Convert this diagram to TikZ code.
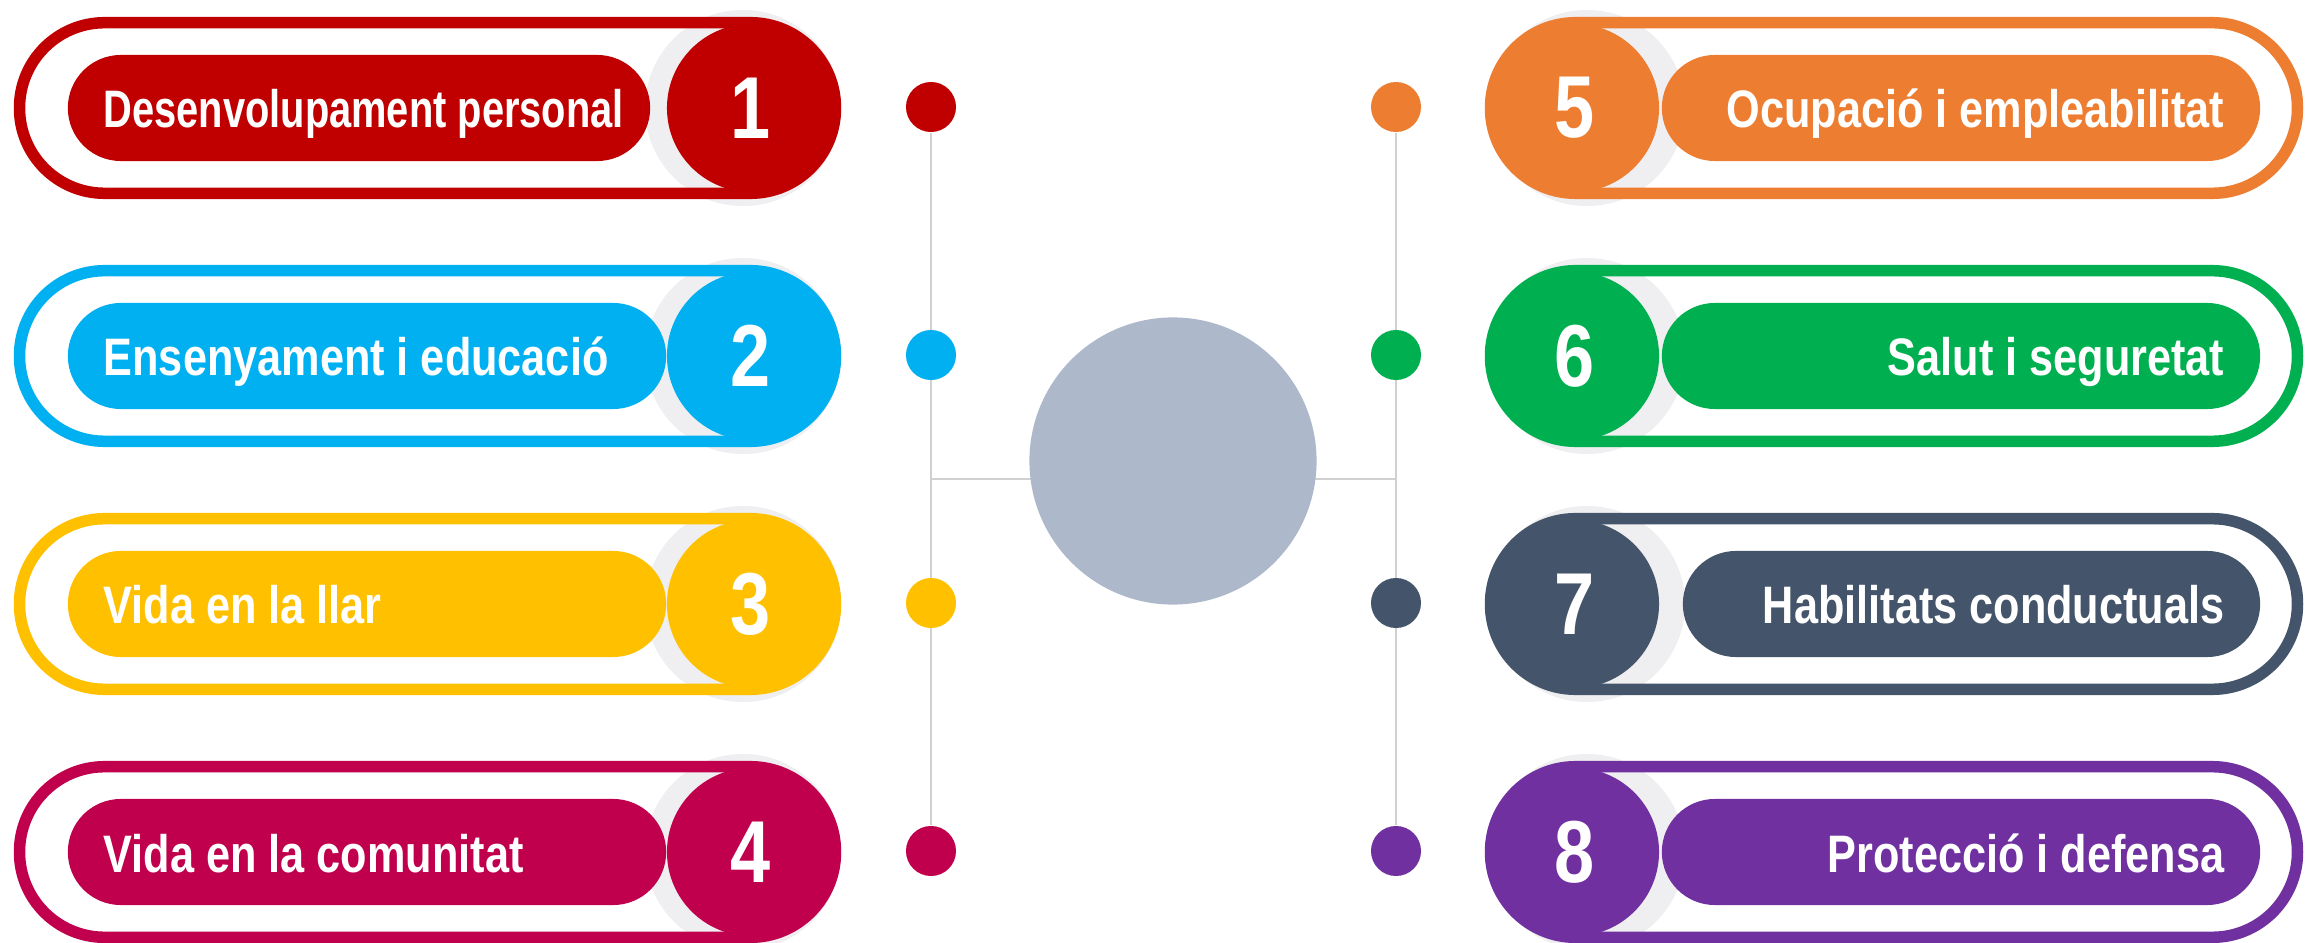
\documentclass[tikz,border=0pt]{standalone}
\usepackage{fontspec}
\setmainfont{Liberation Sans}
\newfontfamily\narrowfont[FakeStretch=0.82]{Liberation Sans}
\newfontfamily\tightfont[FakeStretch=0.755]{Liberation Sans}
\usepackage{tikz}
\usetikzlibrary{backgrounds}
\definecolor{myred}{RGB}{192,0,0}
\definecolor{mycyan}{RGB}{0,176,240}
\definecolor{myamber}{RGB}{255,192,0}
\definecolor{mycrimson}{RGB}{192,0,77}
\definecolor{myorange}{RGB}{237,125,49}
\definecolor{mygreen}{RGB}{0,176,80}
\definecolor{myslate}{RGB}{68,84,106}
\definecolor{mypurple}{RGB}{112,48,160}
\definecolor{hubgray}{RGB}{173,185,202}
\definecolor{halogray}{RGB}{239,238,240}
\definecolor{linegray}{RGB}{208,208,208}
\tikzset{
  halo/.style={circle, fill=halogray, minimum size=1.96cm, inner sep=0pt},
  outerpill/.style={rectangle, line width=3.27pt, minimum height=1.705cm,
    rounded corners=0.85cm, inner sep=0pt},
  innerpill/.style={rectangle, minimum height=1.06cm, rounded corners=0.53cm,
    inner sep=0pt},
  numdisc/.style={circle, minimum size=1.68cm, inner sep=0pt, text=white,
    font=\narrowfont\bfseries\fontsize{25}{30}\selectfont},
  lbl/.style={inner sep=0pt, text=white,
    font=\narrowfont\bfseries\fontsize{15}{18}\selectfont},
  bead/.style={circle, minimum size=0.5cm, inner sep=0pt},
  conn/.style={draw=linegray, line width=0.5pt}
}
\begin{document}
\begin{tikzpicture}[x=0.01cm, y=-0.01cm]
  \useasboundingbox (0,0) rectangle (2305,943);
  % left column
  \node[halo] (h1) at (743,108) {};
  \node[outerpill, draw=myred, minimum width=8.155cm] (o1) at (427.5,108) {};
  \node[innerpill, fill=myred, minimum width=5.82cm] (p1) at (359,108) {};
  \node[numdisc, fill=myred] (n1) at (751,108) {1};
  \node[lbl, anchor=base west, font=\tightfont\bfseries\fontsize{15}{18}\selectfont] (t1) at (103,128) {Desenvolupament personal};

  \node[halo] (h2) at (743,356) {};
  \node[outerpill, draw=mycyan, minimum width=8.155cm] (o2) at (427.5,356) {};
  \node[innerpill, fill=mycyan, minimum width=5.98cm] (p2) at (367,356) {};
  \node[numdisc, fill=mycyan] (n2) at (751,356) {2};
  \node[lbl, anchor=base west] (t2) at (103,376) {Ensenyament i educació};

  \node[halo] (h3) at (743,604) {};
  \node[outerpill, draw=myamber, minimum width=8.155cm] (o3) at (427.5,604) {};
  \node[innerpill, fill=myamber, minimum width=5.98cm] (p3) at (367,604) {};
  \node[numdisc, fill=myamber] (n3) at (751,604) {3};
  \node[lbl, anchor=base west] (t3) at (103,624) {Vida en la llar};

  \node[halo] (h4) at (743,852) {};
  \node[outerpill, draw=mycrimson, minimum width=8.155cm] (o4) at (427.5,852) {};
  \node[innerpill, fill=mycrimson, minimum width=5.98cm] (p4) at (367,852) {};
  \node[numdisc, fill=mycrimson] (n4) at (751,852) {4};
  \node[lbl, anchor=base west] (t4) at (103,872) {Vida en la comunitat};

  % right column
  \node[halo] (h5) at (1587,108) {};
  \node[outerpill, draw=myorange, minimum width=8.065cm] (o5) at (1894,108) {};
  \node[innerpill, fill=myorange, minimum width=5.98cm] (p5) at (1961,108) {};
  \node[numdisc, fill=myorange] (n5) at (1575,108) {5};
  \node[lbl, anchor=base east] (t5) at (2225,128) {Ocupació i empleabilitat};

  \node[halo] (h6) at (1587,356) {};
  \node[outerpill, draw=mygreen, minimum width=8.065cm] (o6) at (1894,356) {};
  \node[innerpill, fill=mygreen, minimum width=5.98cm] (p6) at (1961,356) {};
  \node[numdisc, fill=mygreen] (n6) at (1575,356) {6};
  \node[lbl, anchor=base east] (t6) at (2225,376) {Salut i seguretat};

  \node[halo] (h7) at (1587,604) {};
  \node[outerpill, draw=myslate, minimum width=8.065cm] (o7) at (1894,604) {};
  \node[innerpill, fill=myslate, minimum width=5.77cm] (p7) at (1971.5,604) {};
  \node[numdisc, fill=myslate] (n7) at (1575,604) {7};
  \node[lbl, anchor=base east] (t7) at (2225,624) {Habilitats conductuals};

  \node[halo] (h8) at (1587,852) {};
  \node[outerpill, draw=mypurple, minimum width=8.065cm] (o8) at (1894,852) {};
  \node[innerpill, fill=mypurple, minimum width=5.98cm] (p8) at (1961,852) {};
  \node[numdisc, fill=mypurple] (n8) at (1575,852) {8};
  \node[lbl, anchor=base east] (t8) at (2225,872) {Protecció i defensa};

  % hub and beads
  \node[circle, fill=hubgray, minimum size=2.87cm, inner sep=0pt] (hub) at (1173,461) {};
  \node[bead, fill=myred] (b1) at (931,107) {};
  \node[bead, fill=mycyan] (b2) at (931,355) {};
  \node[bead, fill=myamber] (b3) at (931,603) {};
  \node[bead, fill=mycrimson] (b4) at (931,851) {};
  \node[bead, fill=myorange] (b5) at (1396,107) {};
  \node[bead, fill=mygreen] (b6) at (1396,355) {};
  \node[bead, fill=myslate] (b7) at (1396,603) {};
  \node[bead, fill=mypurple] (b8) at (1396,851) {};
  \coordinate (jl) at (931,479);
  \coordinate (jr) at (1396,479);
  \begin{scope}[on background layer]
    \draw[conn] (b1) -- (b4);
    \draw[conn] (b5) -- (b8);
    \draw[conn] (jl) -- (jr);
  \end{scope}
\end{tikzpicture}
\end{document}
